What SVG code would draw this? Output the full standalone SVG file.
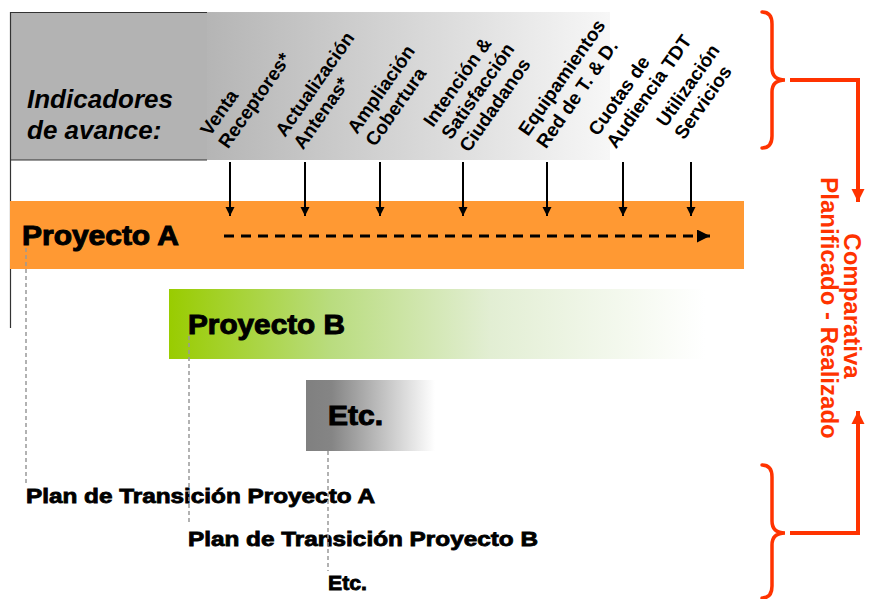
<svg xmlns="http://www.w3.org/2000/svg" width="869" height="599" viewBox="0 0 869 599">
<defs>
<linearGradient id="gHead" x1="0" y1="0" x2="1" y2="0">
<stop offset="0" stop-color="#b5b5b5"/>
<stop offset="1" stop-color="#f7f7f7"/>
</linearGradient>
<linearGradient id="gGreen" x1="0" y1="0" x2="1" y2="0">
<stop offset="0" stop-color="#99cc00"/>
<stop offset="0.3" stop-color="#b9dc7e"/>
<stop offset="0.6" stop-color="#e2eed3"/>
<stop offset="1" stop-color="#ffffff"/>
</linearGradient>
<linearGradient id="gGray" x1="0" y1="0" x2="1" y2="0">
<stop offset="0" stop-color="#808080"/>
<stop offset="0.2" stop-color="#858585"/>
<stop offset="1" stop-color="#ffffff"/>
</linearGradient>
<marker id="ah" viewBox="0 0 10 10" refX="10" refY="5" markerWidth="9" markerHeight="10" markerUnits="userSpaceOnUse" orient="auto">
<path d="M0,0 L10,5 L0,10 Z" fill="#000"/>
</marker>
<marker id="ahd" viewBox="0 0 10 10" refX="10" refY="5" markerWidth="15" markerHeight="13" markerUnits="userSpaceOnUse" orient="auto">
<path d="M0,0 L10,5 L0,10 Z" fill="#000"/>
</marker>
<marker id="ahr" viewBox="0 0 10 10" refX="10" refY="5" markerWidth="13" markerHeight="14" markerUnits="userSpaceOnUse" orient="auto">
<path d="M0,0 L10,5 L0,10 Z" fill="#ff3300"/>
</marker>
</defs>
<style>
text{font-family:"Liberation Sans",Arial,sans-serif;font-weight:bold;fill:#000}
.ind{font-size:19px}
.big{font-size:27px;stroke:#000;stroke-width:1}
.plan{font-size:20px;stroke:#000;stroke-width:0.8}
.red{font-size:24px;fill:#ff3300}
.dash{stroke:#999;stroke-width:1.5;stroke-dasharray:4 3;fill:none}
.arr{stroke:#000;stroke-width:2;fill:none;marker-end:url(#ah)}
.br{stroke:#ff3300;stroke-width:3.5;fill:none;stroke-linecap:round}
.rl{stroke:#ff3300;stroke-width:4;fill:none}
</style>

<g id="header">
<rect x="207" y="12" width="403" height="148" fill="url(#gHead)"/>
<rect x="10" y="12" width="197" height="148" fill="#b3b3b3"/>
<path d="M207,12.5 H10.5 V328 M10.5,160 H207" stroke="#333" stroke-width="1.2" fill="none"/>
<text x="27" y="108" font-size="26" font-style="italic">Indicadores</text>
<text x="27" y="139" font-size="26" font-style="italic">de avance:</text>
</g>

<g id="labels" class="ind">
<text transform="translate(210,137) rotate(-55)"><tspan x="0" y="0">Venta</tspan><tspan x="0" y="22">Receptores*</tspan></text>
<text transform="translate(285,138) rotate(-55)"><tspan x="0" y="0">Actualización</tspan><tspan x="0" y="22">Antenas*</tspan></text>
<text transform="translate(357,135) rotate(-55)"><tspan x="0" y="0">Ampliación</tspan><tspan x="0" y="22">Cobertura</tspan></text>
<text transform="translate(433,128) rotate(-55)"><tspan x="0" y="0">Intención &amp;</tspan><tspan x="0" y="22">Satisfacción</tspan><tspan x="0" y="44">Ciudadanos</tspan></text>
<text transform="translate(528,137) rotate(-55)"><tspan x="0" y="0">Equipamientos</tspan><tspan x="0" y="22">Red de T. &amp; D.</tspan></text>
<text transform="translate(598,137) rotate(-55)"><tspan x="0" y="0">Cuotas de</tspan><tspan x="0" y="22">Audiencia TDT</tspan></text>
<text transform="translate(666,128) rotate(-55)"><tspan x="0" y="0">Utilización</tspan><tspan x="0" y="22">Servicios</tspan></text>
</g>

<g id="proyectoA">
<rect x="10" y="201" width="734" height="68" fill="#ff9933"/>
<text class="big" x="22" y="245" textLength="157" lengthAdjust="spacingAndGlyphs">Proyecto A</text>
</g>

<g id="proyectoB">
<rect x="169" y="289" width="536" height="70" fill="url(#gGreen)"/>
<text class="big" x="188" y="334" textLength="157" lengthAdjust="spacingAndGlyphs">Proyecto B</text>
</g>

<g id="etcBox">
<rect x="306" y="380" width="129" height="71" fill="url(#gGray)"/>
<text class="big" x="328" y="425" textLength="55" lengthAdjust="spacingAndGlyphs">Etc.</text>
</g>

<g id="planA"><text class="plan" x="26" y="503" textLength="349" lengthAdjust="spacingAndGlyphs">Plan de Transición Proyecto A</text></g>
<g id="planB"><text class="plan" x="188" y="546" textLength="350" lengthAdjust="spacingAndGlyphs">Plan de Transición Proyecto B</text></g>
<g id="planEtc"><text class="plan" x="328" y="590" textLength="39" lengthAdjust="spacingAndGlyphs">Etc.</text></g>

<g id="comparativa">
<text class="red" transform="translate(844,306) rotate(90)" text-anchor="middle">Comparativa</text>
<text class="red" transform="translate(821,308) rotate(90)" text-anchor="middle">Planificado - Realizado</text>
</g>

<g id="connectors">
<line class="arr" x1="230" y1="162" x2="230" y2="216"/>
<line class="arr" x1="305" y1="162" x2="305" y2="216"/>
<line class="arr" x1="380" y1="162" x2="380" y2="216"/>
<line class="arr" x1="463" y1="162" x2="463" y2="216"/>
<line class="arr" x1="547" y1="162" x2="547" y2="216"/>
<line class="arr" x1="623" y1="162" x2="623" y2="216"/>
<line class="arr" x1="691" y1="162" x2="691" y2="216"/>
<line x1="224" y1="236" x2="710" y2="236" stroke="#000" stroke-width="3" stroke-dasharray="10 7" marker-end="url(#ahd)"/>
<line class="dash" x1="26" y1="248" x2="26" y2="484"/>
<line class="dash" x1="189" y1="336" x2="189" y2="523"/>
<line class="dash" x1="328" y1="451" x2="328" y2="571"/>
<path class="br" d="M762,12 Q772,12 772,24 V68 Q772,80 785,80 Q772,80 772,92 V136 Q772,148 762,148"/>
<path class="br" d="M762,465 Q772,465 772,477 V521 Q772,533 785,533 Q772,533 772,545 V586 Q772,598 762,598"/>
<path class="rl" d="M790,80 H858 V202" marker-end="url(#ahr)"/>
<path class="rl" d="M790,533 H858 V411" marker-end="url(#ahr)"/>
</g>
</svg>
